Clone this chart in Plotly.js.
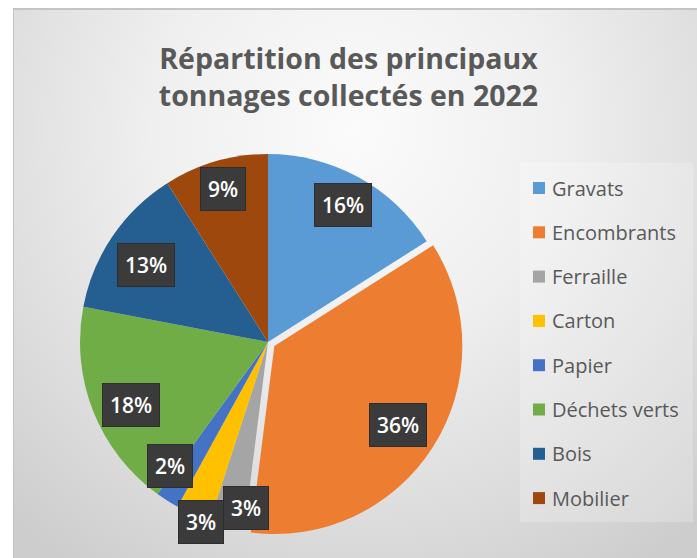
<!DOCTYPE html>
<html>
<head>
<meta charset="utf-8">
<script src="https://cdn.plot.ly/plotly-3.0.1.min.js"></script>
<style>
  html, body { margin: 0; padding: 0; background: #ffffff; }
  #wrap { position: relative; width: 697px; height: 558px; overflow: hidden; }
  #bg { position: absolute; left: 13px; top: 8px; width: 684px; height: 550px;
        border-left: 1px solid #c4c4c4; border-top: 2px solid #c4c4c4;
        background: radial-gradient(ellipse 75% 95% at 50% 22%, #fbfbfb 0%, #efefef 40%, #dcdcdc 75%, #cdcdcd 100%); }
  #chart { position: absolute; left: 0; top: 0; width: 697px; height: 558px; }
</style>
</head>
<body>
<div id="wrap"><div id="bg"></div><div id="chart"></div></div>
<script>
// ---- data ----
const categories = ['Gravats', 'Encombrants', 'Ferraille', 'Carton', 'Papier', 'Déchets verts', 'Bois', 'Mobilier'];
const values = [16, 36, 3, 3, 2, 18, 13, 9];
const colors = ['#5B9BD5', '#ED7D31', '#A5A5A5', '#FFC000', '#4472C4', '#70AD47', '#255E91', '#9E480E'];
const pulls = [0, 0.04, 0, 0, 0, 0, 0, 0];
const titleText = 'Répartition des principaux<br>tonnages collectés en 2022';

// ---- layout config (label placement tweaks, like Excel best fit) ----
const labelRadius = [0.83, 0.78, 0.89, 1.02, 0.84, 0.80, 0.77, 0.85];
const labelShiftDeg = [0, 0, -5, -3, 6, -3, -2, 0];

const W = 697, H = 558;
const cx = 268, cy = 342, R = 188;
const maxPull = Math.max(...pulls);
const half = R * (1 + maxPull);

const total = values.reduce((a, b) => a + b, 0);

const pie = {
  type: 'pie',
  labels: categories,
  values: values,
  sort: false,
  direction: 'clockwise',
  rotation: 0,
  pull: pulls,
  marker: { colors: colors, line: { width: 0 } },
  textinfo: 'none',
  hoverinfo: 'label+percent',
  showlegend: false,
  domain: { x: [(cx - half) / W, (cx + half) / W], y: [(H - cy - half) / H, (H - cy + half) / H] }
};

// data labels computed from cumulative slice angles
const annotations = [];
let cum = 0;
values.forEach((v, i) => {
  const frac = v / total;
  const midDeg = (cum + frac / 2) * 360;
  cum += frac;
  const mid = midDeg * Math.PI / 180;
  const a = (midDeg + labelShiftDeg[i]) * Math.PI / 180;
  const ox = pulls[i] * R * Math.sin(mid), oy = -pulls[i] * R * Math.cos(mid);
  const px = cx + ox + labelRadius[i] * R * Math.sin(a);
  const py = cy + oy - labelRadius[i] * R * Math.cos(a);
  annotations.push({
    xref: 'paper', yref: 'paper', x: px / W, y: 1 - py / H,
    xanchor: 'center', yanchor: 'middle', showarrow: false,
    text: Math.round(frac * 100) + '%',
    font: { family: 'Open Sans', size: 21, color: '#ffffff', weight: 600 },
    bgcolor: '#3b3b3b', bordercolor: '#2e2e2e', borderwidth: 1, borderpad: 7
  });
});

// manual legend (Excel-style spacing)
const shapes = [{
  type: 'rect', xref: 'paper', yref: 'paper', layer: 'below',
  x0: 520 / W, x1: 693 / W, y0: 1 - 522 / H, y1: 1 - 163 / H,
  fillcolor: 'rgba(255,255,255,0.22)', line: { width: 0 }
}];
const legTop = 188, legGap = 44.3, sq = 12, sqX = 533, txtX = 550;
categories.forEach((c, i) => {
  const yc = legTop + i * legGap;
  shapes.push({
    type: 'rect', xref: 'paper', yref: 'paper',
    x0: sqX / W, x1: (sqX + sq) / W, y0: 1 - (yc + sq / 2) / H, y1: 1 - (yc - sq / 2) / H,
    fillcolor: colors[i], line: { width: 0 }
  });
  annotations.push({
    xref: 'paper', yref: 'paper', x: txtX / W, y: 1 - yc / H,
    xanchor: 'left', yanchor: 'middle', showarrow: false, text: c,
    font: { family: 'Open Sans', size: 20, color: '#595959' }
  });
});

const layout = {
  width: W, height: H,
  margin: { l: 0, r: 0, t: 0, b: 0 },
  paper_bgcolor: 'rgba(0,0,0,0)',
  plot_bgcolor: 'rgba(0,0,0,0)',
  title: {
    text: titleText,
    x: 0.5, xanchor: 'center', xref: 'paper',
    y: 1 - 69 / H, yanchor: 'middle', yref: 'container',
    font: { family: 'Open Sans', size: 28.5, color: '#595959', weight: 700 }
  },
  annotations: annotations,
  shapes: shapes
};

Plotly.newPlot('chart', [pie], layout, { displayModeBar: false, staticPlot: true });
</script>
</body>
</html>
